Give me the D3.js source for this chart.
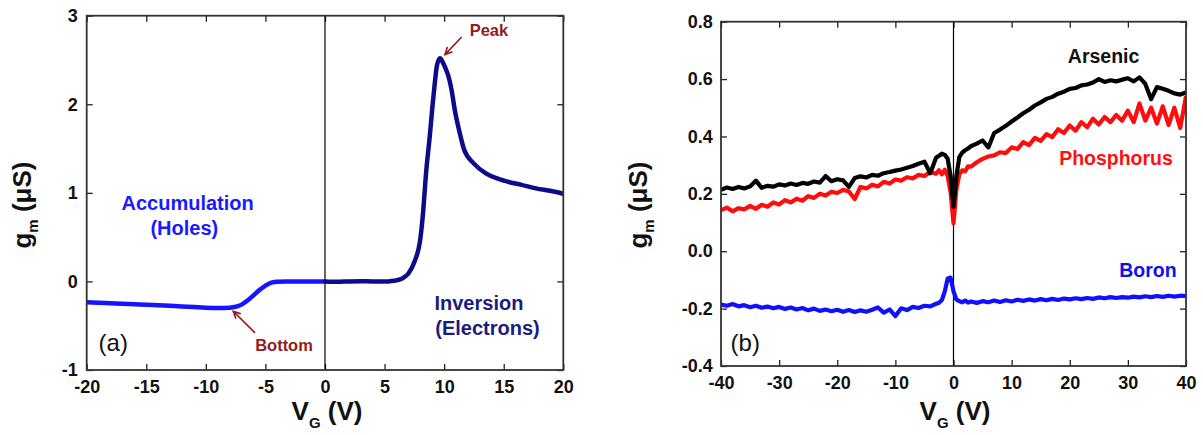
<!DOCTYPE html>
<html>
<head>
<meta charset="utf-8">
<script src="https://cdn.jsdelivr.net/npm/d3@7"></script>
<style>
  html, body { margin: 0; padding: 0; background: #fff; }
  svg { display: block; font-family: "Liberation Sans", Arial, sans-serif; }
</style>
</head>
<body>
<script>
// ---------------- DATA ----------------
// Panel (a): accumulation branch (V_G <= 0) and inversion branch (V_G >= 0)
const accX = [-20,-19,-18,-17,-16,-15,-14,-13,-12,-11,-10,-9,-8,-7.5,-7,-6.5,-6,-5.5,-5,-4.5,-4,-3,-2,-1,0];
const accY = [-0.236,-0.242,-0.247,-0.252,-0.258,-0.263,-0.270,-0.276,-0.283,-0.290,-0.297,-0.300,-0.296,-0.286,-0.262,-0.215,-0.158,-0.098,-0.048,-0.014,-0.003,-0.001,0,0,0];
const invX = [0,1,2,3,4,5,5.5,6,6.5,7,7.5,8,8.2,8.5,8.8,9,9.2,9.4,9.65,9.9,10.1,10.35,10.6,10.9,11.25,11.7,12.5,13.5,14.5,15.5,16.5,17.7,19,20];
const invY = [0,-0.004,0,0.002,0,0,0.003,0.012,0.035,0.09,0.22,0.48,0.73,1.25,1.65,1.95,2.22,2.44,2.52,2.47,2.41,2.32,2.18,1.93,1.71,1.48,1.33,1.22,1.16,1.12,1.09,1.05,1.02,0.99];

const aXTicks = [-20,-15,-10,-5,0,5,10,15,20];
const aYTicks = [-1,0,1,2,3];

// Panel (b): gate voltage grid and transconductance of the three dopants
const bX = [-40,-39,-38,-37,-36,-35,-34,-33,-32,-31,-30,-29,-28,-27,-26,-25,-24,-23,-22,-21,-20,-19,-18,-17,-16,-15,-14,-13,-12,-11,-10,-9,-8,-7,-6,-5,-4,-3,
  -2.5,-2,-1.5,-1,-0.5,0,0.5,1,1.5,2,2.5,
  3,4,5,6,7,8,9,10,11,12,13,14,15,16,17,18,19,20,21,22,23,24,25,26,27,28,29,30,31,32,33,34,35,36,37,38,39,40];

const arsenic = [0.214,0.222,0.217,0.224,0.219,0.226,0.246,0.221,0.228,0.225,0.233,0.229,0.236,0.231,0.238,0.235,0.243,0.239,0.262,0.244,0.251,0.247,0.224,0.255,0.261,0.257,0.266,0.263,0.272,0.276,0.281,0.285,0.291,0.297,0.305,0.312,0.272,0.326,
  0.333,0.340,0.336,0.322,0.262,0.155,0.262,0.328,0.344,0.352,0.358,
  0.366,0.375,0.386,0.362,0.412,0.424,0.437,0.452,0.466,0.481,0.493,0.508,0.519,0.531,0.538,0.549,0.556,0.566,0.569,0.578,0.581,0.588,0.600,0.590,0.596,0.592,0.598,0.603,0.592,0.606,0.583,0.530,0.572,0.566,0.559,0.550,0.546,0.553];

const phosphorus = [0.143,0.152,0.139,0.150,0.146,0.158,0.148,0.162,0.155,0.170,0.163,0.178,0.170,0.183,0.176,0.192,0.186,0.200,0.194,0.207,0.203,0.214,0.208,0.182,0.224,0.219,0.232,0.226,0.242,0.236,0.250,0.246,0.258,0.254,0.266,0.262,0.276,0.270,
  0.282,0.268,0.284,0.262,0.205,0.097,0.215,0.268,0.282,0.278,0.296,
  0.295,0.310,0.322,0.330,0.334,0.345,0.342,0.362,0.356,0.380,0.370,0.395,0.385,0.408,0.398,0.425,0.412,0.438,0.420,0.450,0.432,0.462,0.442,0.468,0.450,0.475,0.455,0.490,0.450,0.515,0.455,0.500,0.445,0.505,0.440,0.500,0.430,0.540];

const boron = [-0.186,-0.190,-0.184,-0.192,-0.188,-0.195,-0.190,-0.197,-0.193,-0.199,-0.194,-0.201,-0.196,-0.203,-0.198,-0.206,-0.200,-0.208,-0.203,-0.209,-0.204,-0.211,-0.205,-0.212,-0.206,-0.211,-0.204,-0.196,-0.214,-0.203,-0.226,-0.199,-0.205,-0.194,-0.198,-0.190,-0.192,-0.183,
  -0.180,-0.170,-0.140,-0.095,-0.092,-0.140,-0.168,-0.174,-0.178,-0.172,-0.179,
  -0.175,-0.180,-0.174,-0.178,-0.172,-0.177,-0.171,-0.175,-0.169,-0.173,-0.168,-0.172,-0.167,-0.171,-0.166,-0.170,-0.165,-0.168,-0.164,-0.167,-0.163,-0.166,-0.161,-0.164,-0.160,-0.163,-0.160,-0.162,-0.158,-0.161,-0.157,-0.160,-0.156,-0.159,-0.155,-0.158,-0.155,-0.156];

const bXTicks = [-40,-30,-20,-10,0,10,20,30,40];
const bYTicks = [-0.4,-0.2,0,0.2,0.4,0.6,0.8];

// ---------------- DRAW ----------------
const W = 1203, H = 435;
const FONT = '"Liberation Sans", Arial, sans-serif';
const DARKRED = "#921c1c";

const svg = d3.select("body").append("svg").attr("width", W).attr("height", H);
svg.append("rect").attr("width", W).attr("height", H).attr("fill", "#fff");

function panel(cfg) {
  const g = svg.append("g");
  const x = d3.scaleLinear().domain(cfg.xDomain).range([cfg.left, cfg.right]);
  const y = d3.scaleLinear().domain(cfg.yDomain).range([cfg.bottom, cfg.top]);

  const styleAxis = (sel) => {
    sel.select(".domain").remove();
    sel.selectAll(".tick line").attr("stroke", "#222").attr("stroke-width", 1.3);
    sel.selectAll(".tick text").attr("font-family", FONT).attr("font-size", 18)
      .attr("font-weight", "bold").attr("fill", "#111");
  };

  g.append("g").attr("transform", `translate(0,${cfg.bottom})`)
    .call(d3.axisBottom(x).tickValues(cfg.xTicks).tickSize(-6).tickPadding(10.5).tickFormat(cfg.xFmt))
    .call(styleAxis);
  g.append("g").attr("transform", `translate(0,${cfg.top})`)
    .call(d3.axisTop(x).tickValues(cfg.xTicks).tickSize(-6).tickFormat(""))
    .call(styleAxis);
  g.append("g").attr("transform", `translate(${cfg.left},0)`)
    .call(d3.axisLeft(y).tickValues(cfg.yTicks).tickSize(-6).tickPadding(cfg.yPad).tickFormat(cfg.yFmt))
    .call(styleAxis);
  g.append("g").attr("transform", `translate(${cfg.right},0)`)
    .call(d3.axisRight(y).tickValues(cfg.yTicks).tickSize(-6).tickFormat(""))
    .call(styleAxis);

  // zero line
  g.append("line").attr("x1", x(0)).attr("x2", x(0)).attr("y1", cfg.top).attr("y2", cfg.bottom)
    .attr("stroke", "#000").attr("stroke-width", 1.2);

  const clipId = "clip" + cfg.id;
  svg.append("clipPath").attr("id", clipId).append("rect")
    .attr("x", cfg.left).attr("y", cfg.top).attr("width", cfg.right - cfg.left).attr("height", cfg.bottom - cfg.top);
  const plot = g.append("g").attr("clip-path", `url(#${clipId})`);

  // frame
  g.append("rect").attr("x", cfg.left).attr("y", cfg.top)
    .attr("width", cfg.right - cfg.left).attr("height", cfg.bottom - cfg.top)
    .attr("fill", "none").attr("stroke", "#333").attr("stroke-width", 1.8);

  // axis titles
  const xt = g.append("text").attr("x", cfg.xTitleX).attr("y", 420).attr("text-anchor", "middle")
    .attr("font-family", FONT).attr("font-size", 26).attr("font-weight", "bold").attr("fill", "#111");
  xt.append("tspan").text("V");
  xt.append("tspan").attr("font-size", 15).attr("dy", 8).text("G");
  xt.append("tspan").attr("dy", -8).text(" (V)");

  const yt = g.append("text").attr("transform", `translate(${cfg.yTitleX},205) rotate(-90)`)
    .attr("text-anchor", "middle")
    .attr("font-family", FONT).attr("font-size", 26).attr("font-weight", "bold").attr("fill", "#111");
  yt.append("tspan").text("g");
  yt.append("tspan").attr("font-size", 15).attr("dy", 7).text("m");
  yt.append("tspan").attr("dy", -7).text(" (\u03bcS)");

  return { g, plot, x, y };
}

// ----- Panel (a)
const A = panel({
  id: "a", left: 86.7, right: 563.3, top: 15.7, bottom: 370,
  xDomain: [-20, 20], yDomain: [-1, 3], xTicks: aXTicks, yTicks: aYTicks,
  xFmt: d => String(d), yFmt: d => String(d), yPad: 9, xTitleX: 327, yTitleX: 31
});
const lineA = d3.line().x(d => A.x(d[0])).y(d => A.y(d[1])).curve(d3.curveMonotoneX);
A.plot.append("path").datum(accX.map((v, i) => [v, accY[i]])).attr("d", lineA)
  .attr("fill", "none").attr("stroke", "#1414ff").attr("stroke-width", 4.5).attr("stroke-linejoin", "round").attr("stroke-linecap", "round");
A.plot.append("path").datum(invX.map((v, i) => [v, invY[i]])).attr("d", lineA)
  .attr("fill", "none").attr("stroke", "#0c0c88").attr("stroke-width", 4.5).attr("stroke-linejoin", "round").attr("stroke-linecap", "round");

function label(P, vx, vy, txt, opts) {
  return P.g.append("text").attr("x", P.x(vx)).attr("y", P.y(vy))
    .attr("text-anchor", opts.anchor || "middle")
    .attr("font-family", FONT).attr("font-size", opts.size)
    .attr("font-weight", opts.weight || "bold").attr("fill", opts.color).text(txt);
}
function arrow(P, from, to, color) {
  const x1 = P.x(from[0]), y1 = P.y(from[1]), x2 = P.x(to[0]), y2 = P.y(to[1]);
  const ang = Math.atan2(y2 - y1, x2 - x1), L = 8, s = 0.45;
  P.g.append("path")
    .attr("d", `M${x1},${y1}L${x2},${y2}M${x2 - L * Math.cos(ang - s)},${y2 - L * Math.sin(ang - s)}L${x2},${y2}L${x2 - L * Math.cos(ang + s)},${y2 - L * Math.sin(ang + s)}`)
    .attr("fill", "none").attr("stroke", color).attr("stroke-width", 1.6).attr("stroke-linejoin", "miter");
}

label(A, -11.53, 0.81, "Accumulation", { size: 20, color: "#1a1aff" });
label(A, -11.81, 0.528, "(Holes)", { size: 20, color: "#1a1aff" });
label(A, 12.92, -0.318, "Inversion", { size: 20, color: "#1c1c7c" });
label(A, 13.64, -0.60, "(Electrons)", { size: 20, color: "#1c1c7c" });
label(A, 13.76, 2.766, "Peak", { size: 16.5, color: DARKRED });
arrow(A, [11.47, 2.76], [10.07, 2.56], DARKRED);
label(A, -3.44, -0.789, "Bottom", { size: 16.5, color: DARKRED });
arrow(A, [-5.87, -0.581], [-7.70, -0.337], DARKRED);
label(A, -19.0, -0.79, "(a)", { size: 24, color: "#111", weight: "normal", anchor: "start" });

// ----- Panel (b)
const B = panel({
  id: "b", left: 721, right: 1186, top: 21.7, bottom: 366,
  xDomain: [-40, 40], yDomain: [-0.4, 0.8], xTicks: bXTicks, yTicks: bYTicks,
  xFmt: d => String(d), yFmt: d => d.toFixed(1), yPad: 8.3, xTitleX: 955, yTitleX: 647
});
const lineB = d3.line().x(d => B.x(d[0])).y(d => B.y(d[1]));
[[boron, "#1010ff"], [phosphorus, "#ff0d0d"], [arsenic, "#000000"]].forEach(([ser, col]) => {
  B.plot.append("path").datum(bX.map((v, i) => [v, ser[i]])).attr("d", lineB)
    .attr("fill", "none").attr("stroke", col).attr("stroke-width", 4.2).attr("stroke-linejoin", "round");
});
label(B, 25.82, 0.6547, "Arsenic", { size: 19.5, color: "#111" });
label(B, 27.96, 0.300, "Phosphorus", { size: 19.5, color: "#ff1010" });
label(B, 33.46, -0.090, "Boron", { size: 19.5, color: "#1010ee" });
label(B, -38.35, -0.348, "(b)", { size: 24, color: "#111", weight: "normal", anchor: "start" });
</script>
</body>
</html>
